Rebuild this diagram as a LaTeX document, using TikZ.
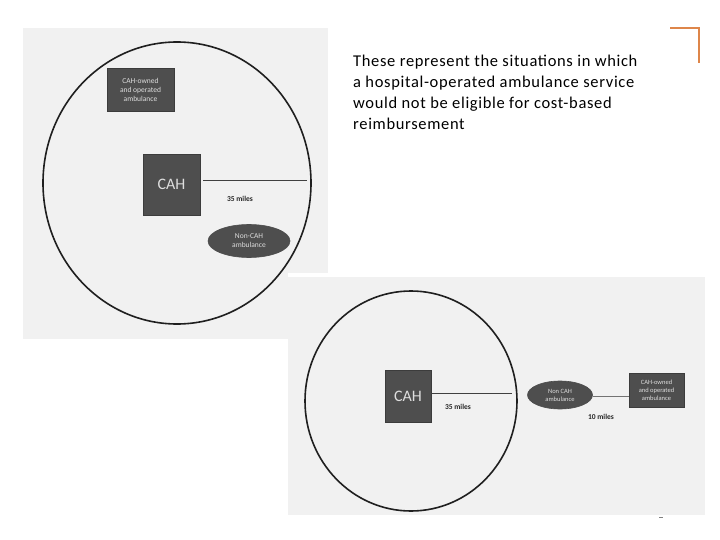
\documentclass[tikz,border=0pt]{standalone}
\usepackage{fontspec}
\setmainfont{Carlito}
\newfontfamily\captionfont[LetterSpace=4]{Carlito}
\usetikzlibrary{shapes.geometric}
\definecolor{panelbg}{RGB}{241,241,241}
\definecolor{boxdark}{RGB}{78,78,78}
\definecolor{boxedge}{RGB}{60,60,60}
\definecolor{boxtext}{RGB}{222,222,222}
\definecolor{orangeline}{RGB}{222,134,74}
\begin{document}
\begin{tikzpicture}[x=1pt,y=-1pt,
  zone/.style={draw=black!88,line width=1.6pt,ellipse,inner sep=0pt},
  darkbox/.style={rectangle,fill=boxdark,draw=boxedge,line width=0.6pt,inner sep=0pt,
    text=boxtext,align=center,font=\fontsize{7.5}{9}\selectfont},
  cahbox/.style={darkbox,font=\fontsize{16}{18}\selectfont},
  ambell/.style={ellipse,fill=boxdark,draw=black!70,line width=0.6pt,inner sep=0pt,
    text=boxtext,align=center,font=\fontsize{7.5}{9}\selectfont},
  distlbl/.style={inner sep=0pt,text=black!85,font=\bfseries\fontsize{7.5}{9}\selectfont},
  link/.style={draw=black!75,line width=0.8pt},
  thinlink/.style={draw=black!55,line width=0.7pt}
]
\useasboundingbox (0,0) rectangle (720,540);
\fill[white] (0,0) rectangle (720,540);
% scanned panels
\fill[panelbg] (23,28) rectangle (328,273);
\fill[panelbg] (23,273) rectangle (288,339);
\fill[panelbg] (288,277) rectangle (705,515);

% ---------- top diagram ----------
\node[zone,minimum width=268,minimum height=282] (zone1) at (177,183) {};
\node[darkbox,minimum width=67,minimum height=43] (own1) at (140.5,89.5)
  {CAH-owned\\and operated\\ambulance};
\node[cahbox,minimum width=57,minimum height=61] (cah1) at (171.5,184.5) {CAH};
\coordinate (e1) at (307,180);
\draw[link] (cah1.east |- e1) ++(3,0) -- (e1);
\node[distlbl] (d1) at (240,199) {35 miles};
\node[ambell,minimum width=82,minimum height=33] (amb1) at (249,241)
  {Non-CAH\\ambulance};

% ---------- bottom diagram ----------
\node[zone,minimum width=212,minimum height=220] (zone2) at (411,401) {};
\node[cahbox,minimum width=46,minimum height=52] (cah2) at (408,396) {CAH};
\coordinate (e2) at (512,393);
\draw[link] (cah2.east |- e2) -- (e2);
\node[distlbl] (d2) at (458,407) {35 miles};
\node[ambell,minimum width=65,minimum height=28,font=\fontsize{6.5}{8}\selectfont]
  (amb2) at (560,395) {Non CAH\\ambulance};
\node[darkbox,minimum width=55,minimum height=34,font=\fontsize{6.5}{8}\selectfont]
  (own2) at (656.5,390) {CAH-owned\\and operated\\ambulance};
\draw[thinlink] (amb2.east |- 0,396) -- (own2.west |- 0,396);
\node[distlbl] (d3) at (601,417) {10 miles};
\draw[black!50,line width=1pt] (659,517) -- (663,517);

% ---------- caption ----------
\node[anchor=north west,align=left,inner sep=0pt,
  font=\captionfont\fontsize{16.5}{21}\selectfont] (caption) at (353,55)
  {These represent the situations in which\\
   a hospital-operated ambulance service\\
   would not be eligible for cost-based\\
   reimbursement};

% orange corner
\draw[orangeline,line width=1.5pt] (670,28) -- (699,28) -- (699,63);
\end{tikzpicture}
\end{document}
